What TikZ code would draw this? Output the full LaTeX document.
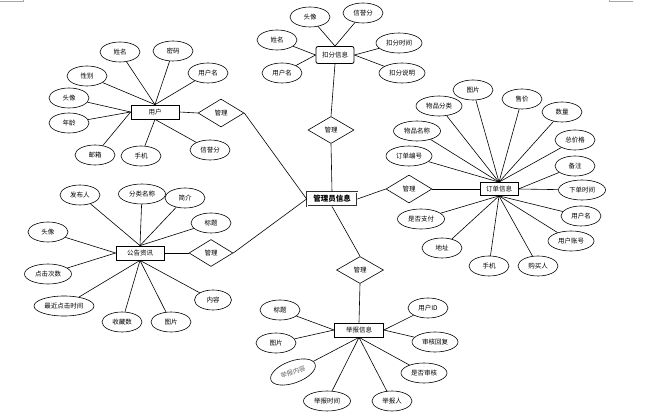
\documentclass[tikz,border=0pt]{standalone}
\usepackage{fontspec}
\setmainfont{Noto Sans CJK SC}
\usetikzlibrary{shapes.geometric}
\begin{document}
\begin{tikzpicture}[x=1pt,y=-1pt,
  attr/.style={ellipse,draw,line width=0.6pt,minimum width=40pt,minimum height=20pt,inner sep=0pt,font=\fontsize{6.5}{7}\selectfont},
  ent/.style={rectangle,draw,line width=0.8pt,minimum width=48pt,minimum height=14pt,inner sep=0pt,font=\fontsize{6.5}{7}\selectfont},
  rel/.style={diamond,draw,line width=0.6pt,minimum width=46pt,minimum height=28pt,inner sep=0pt,font=\fontsize{6.5}{7}\selectfont},
  lk/.style={line width=0.6pt},
  mark/.style={draw=gray!70,line width=0.5pt}]
\useasboundingbox (0,0) rectangle (665,417);
\draw[gray!70,line width=0.5pt] (0,1.5) -- (23,1.5) -- (23,0);
\draw[gray!70,line width=0.5pt] (633,1.5) -- (609,1.5) -- (609,0);

% central
\node[ent,double,double distance=0.8pt,draw=black!80,minimum width=50pt,minimum height=14pt,font=\fontsize{7.5}{8}\selectfont\bfseries] (c) at (332,199) {管理员信息};

% user cluster
\node[ent] (u) at (155,112) {用户};
\node[rel] (um) at (221,113) {管理};
\node[attr] (u1) at (120,52) {姓名};
\node[attr] (u2) at (173,51) {密码};
\node[attr] (u3) at (87,76) {性别};
\node[attr] (u4) at (208,73) {用户名};
\node[attr] (u5) at (69,98) {头像};
\node[attr] (u6) at (69,123) {年龄};
\node[attr] (u7) at (95,155) {邮箱};
\node[attr] (u8) at (141,156) {手机};
\node[attr] (u9) at (210,150) {信誉分};
\foreach \a in {u1,u2,u3,u4} \draw[lk] (\a) -- (u.north);
\foreach \a in {u5,u6,u7} \draw[lk] (\a) -- (u.west);
\foreach \a in {u8,u9} \draw[lk] (\a) -- (u.south);
\draw[lk] (u.east) -- (um.west);
\draw[lk] (um.east) -- (c.west);

% notice cluster
\node[ent] (g) at (140,253) {公告资讯};
\node[rel,minimum width=44pt,minimum height=27pt] (gm) at (211,253) {管理};
\node[attr] (g1) at (80,195) {发布人};
\node[attr,minimum width=47pt] (g2) at (142,194) {分类名称};
\node[attr] (g3) at (185,198) {简介};
\node[attr] (g4) at (211,223) {标题};
\node[attr] (g5) at (48,232) {头像};
\node[attr,minimum width=47pt] (g6) at (48,274) {点击次数};
\node[attr,minimum width=60pt] (g7) at (64,306) {最近点击时间};
\node[attr] (g8) at (122,322) {收藏数};
\node[attr] (g9) at (171,322) {图片};
\node[attr,minimum width=37pt] (g10) at (213,300) {内容};
\foreach \a in {g1,g2,g3,g4} \draw[lk] (\a) -- (g.north);
\foreach \a in {g5,g6} \draw[lk] (\a) -- (g.west);
\foreach \a in {g7,g8,g9,g10} \draw[lk] (\a) -- (g.south);
\draw[lk] (g.east) -- (gm.west);
\draw[lk] (gm.east) -- (c.west);

% deduction cluster
\node[ent,rounded corners=2pt,minimum width=38pt,minimum height=17pt] (k) at (335,55) {扣分信息};
\node[rel,minimum height=27pt] (km) at (331,130) {管理};
\node[attr] (k1) at (310,17) {头像};
\node[attr] (k2) at (363,13) {信誉分};
\node[attr] (k3) at (277,40) {姓名};
\node[attr,minimum width=46pt] (k4) at (399,43) {扣分时间};
\node[attr] (k5) at (282,73) {用户名};
\node[attr,minimum width=46pt] (k6) at (402,73) {扣分说明};
\foreach \a in {k1,k2} \draw[lk] (\a) -- (k.north);
\foreach \a in {k3,k5} \draw[lk] (\a) -- (k.west);
\foreach \a in {k4,k6} \draw[lk] (\a) -- (k.east);
\draw[lk] (k.south) -- (km.north);
\draw[lk] (km.south) -- (c.north);

% order cluster
\node[ent,minimum width=38pt,minimum height=13pt] (o) at (499,189) {订单信息};
\node[rel] (om) at (409,189) {管理};
\node[attr] (o1) at (473,90) {图片};
\node[attr,minimum width=46pt] (o2) at (439,106) {物品分类};
\node[attr] (o3) at (522,99) {售价};
\node[attr] (o4) at (562,112) {数量};
\node[attr,minimum width=47pt] (o5) at (417,131) {物品名称};
\node[attr] (o6) at (575,140) {总价格};
\node[attr,minimum width=46pt] (o7) at (409,156) {订单编号};
\node[attr] (o8) at (575,166) {备注};
\node[attr,minimum width=47pt] (o9) at (582,190) {下单时间};
\node[attr,minimum width=47pt] (o10) at (421,219) {是否支付};
\node[attr] (o11) at (581,216) {用户名};
\node[attr] (o12) at (442,248) {地址};
\node[attr,minimum width=46pt] (o13) at (571,241) {用户账号};
\node[attr] (o14) at (489,266) {手机};
\node[attr] (o15) at (538,266) {购买人};
\foreach \a in {o1,o2,o3,o4,o5,o6,o7} \draw[lk] (\a) -- (o.north);
\foreach \a in {o8,o9} \draw[lk] (\a) -- (o.east);
\foreach \a in {o10,o11,o12,o13,o14,o15} \draw[lk] (\a) -- (o.south);
\draw[lk] (c.east) -- (om.west);
\draw[lk] (om.east) -- (o.west);

% report cluster
\node[ent,minimum width=49pt] (r) at (359,330) {举报信息};
\node[rel,minimum width=47pt,minimum height=27pt] (rm) at (360,270) {管理};
\node[attr] (r1) at (280,310) {标题};
\node[attr] (r2) at (428,308) {用户ID};
\node[attr] (r3) at (276,343) {图片};
\node[attr,minimum width=46pt] (r4) at (435,342) {审核回复};
\node[attr,minimum width=47pt,minimum height=22pt,rotate=20,text=black!60] (r5) at (293,372) {举报内容};
\node[attr,minimum width=46pt] (r6) at (424,373) {是否审核};
\node[attr,minimum width=47pt] (r7) at (327,401) {举报时间};
\node[attr] (r8) at (392,401) {举报人};
\foreach \a in {r1,r3} \draw[lk] (\a) -- (r.west);
\foreach \a in {r2,r4} \draw[lk] (\a) -- (r.east);
\foreach \a in {r5,r6,r7,r8} \draw[lk] (\a) -- (r.south);
\draw[lk] (c.south) -- (rm.north);
\draw[lk] (rm.south) -- (r.north);
\end{tikzpicture}
\end{document}
